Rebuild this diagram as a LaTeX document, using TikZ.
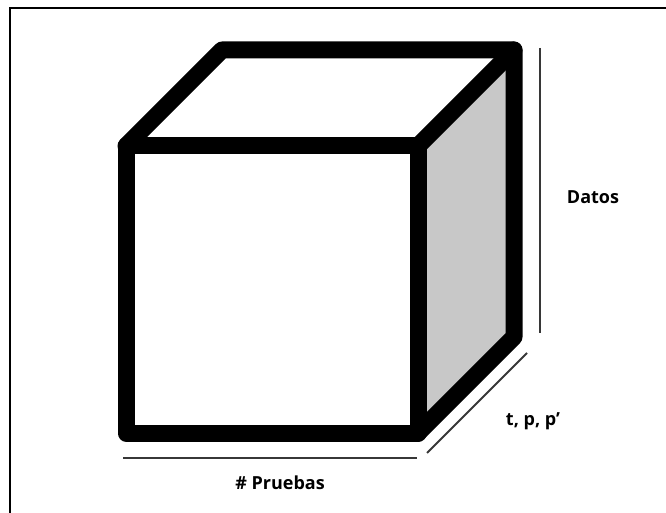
\documentclass[tikz,border=0pt]{standalone}
\usepackage{fontspec}
\setmainfont{Open Sans}
\usetikzlibrary{positioning}
\definecolor{sidegray}{RGB}{200,200,200}
\definecolor{rulegray}{RGB}{55,55,55}

\begin{document}
\begin{tikzpicture}[x=1pt,y=-1pt,
  edge/.style={line width=17pt, line join=round, line cap=round},
  dimline/.style={draw=rulegray, line width=2pt},
  lbl/.style={font=\fontsize{18}{21}\selectfont\bfseries, inner sep=1pt}]
\useasboundingbox (0,0) rectangle (666,513);
% frame
\draw[line width=2.5pt] (10,513) -- (10,8) -- (666,8);
% cube corners
\coordinate (ftl) at (126,146);
\coordinate (ftr) at (418,146);
\coordinate (fbl) at (126,433);
\coordinate (fbr) at (418,433);
\coordinate (btl) at (222,50);
\coordinate (btr) at (514,50);
\coordinate (bbr) at (514,337);
% faces
\fill[sidegray] (ftr) -- (btr) -- (bbr) -- (fbr) -- cycle;
\draw[edge] (ftl) -- (ftr) -- (fbr) -- (fbl) -- cycle;
\draw[edge] (ftl) -- (btl) -- (btr) -- (bbr) -- (fbr);
\draw[edge] (ftr) -- (btr);
% dimension lines
\coordinate (w1) at (123,458);
\coordinate (w2) at (417,458);
\coordinate (d1) at (427,453);
\coordinate (d2) at (527,353);
\coordinate (h1) at (540,48);
\coordinate (h2) at (540,333);
\draw[dimline] (w1) -- (w2);
\draw[dimline] (d1) -- (d2);
\draw[dimline] (h1) -- (h2);
% labels
\node[lbl] (pruebas) at (280,483) {\# Pruebas};
\node[lbl] (tpp) at (533,421) {t, p, p’};
\node[lbl] (datos) at (593,197) {Datos};
\end{tikzpicture}
\end{document}
